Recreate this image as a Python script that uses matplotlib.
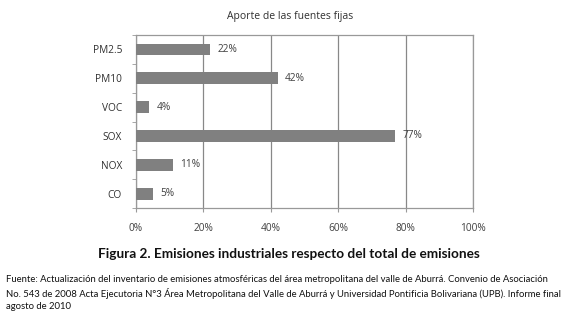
import numpy as np
import matplotlib.pyplot as plt

# data
categories = ['PM2.5', 'PM10', 'VOC', 'SOX', 'NOX', 'CO']
values = [22, 42, 4, 77, 11, 5]
xticks = [0, 20, 40, 60, 80, 100]

chart_title = 'Aporte de las fuentes fijas'
caption = 'Figura 2. Emisiones industriales respecto del total de emisiones'
source = ('Fuente: Actualización del inventario de emisiones atmosféricas del área metropolitana del valle de Aburrá. Convenio de Asociación\n'
          'No. 543 de 2008 Acta Ejecutoria N°3 Área Metropolitana del Valle de Aburrá y Universidad Pontificia Bolivariana (UPB). Informe final\n'
          'agosto de 2010')

fig = plt.figure(figsize=(5.77, 3.23), dpi=100)
ax = fig.add_axes([0.2357, 0.356, 0.584, 0.5356])

y = np.arange(len(categories))[::-1]
ax.barh(y, values, height=0.41, color='#808080', zorder=3)
for yi, v in zip(y, values):
    ax.text(v + 2.2, yi, f'{v}%', va='center', ha='left', fontsize=7.3, color='#404040',
            family='Open Sans')

ax.set_xlim(0, 100)
ax.set_ylim(-0.5, len(categories) - 0.5)
ax.set_yticks(y)
ax.set_yticklabels(categories, family='Open Sans', fontsize=7.3, color='#303030')
ax.set_yticks(np.arange(len(categories) + 1) - 0.5, minor=True)
ax.tick_params(axis='y', which='major', length=0, pad=10)
ax.tick_params(axis='y', which='minor', length=3, color='#999999', direction='out')
ax.set_xticks(xticks)
ax.set_xticklabels([f'{t}%' for t in xticks], family='Open Sans', fontsize=7.3, color='#404040')
ax.tick_params(axis='x', length=3, color='#999999', pad=8)
ax.xaxis.grid(True, color='#888888', linewidth=0.9, zorder=0)

for s in ax.spines.values():
    s.set_color('#999999')
    s.set_linewidth(0.9)

fig.text(0.503, 0.95, chart_title, ha='center', va='center', fontsize=7.5,
         family='Open Sans', color='#303030')
fig.text(0.5, 0.2136, caption, ha='center', va='center', fontsize=9.8,
         family='Lato', weight='bold', color='#111111')
fig.text(0.011, 0.148, source, ha='left', va='top', fontsize=6.85,
         family='Lato', color='#111111', linespacing=1.45)

fig.savefig('out.png', dpi=100)
plt.close()
